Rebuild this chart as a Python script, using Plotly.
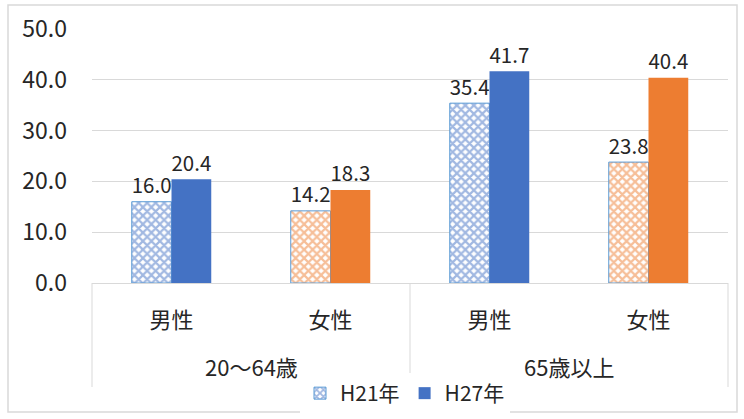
import plotly.graph_objects as go

groups = ["20～64歳", "20～64歳", "65歳以上", "65歳以上"]
sexes = ["男性", "女性", "男性", "女性"]
h21 = [16.0, 14.2, 35.4, 23.8]
h27 = [20.4, 18.3, 41.7, 40.4]
bar_colors = ["#4472C4", "#ED7D31", "#4472C4", "#ED7D31"]
y_ticks = [0, 10, 20, 30, 40, 50]
group_names = ["20～64歳", "65歳以上"]

FONT = "Noto Sans CJK JP"
TXT = "#262626"
x_keys = [f"{g} {s}" for g, s in zip(groups, sexes)]

W, H = 744, 419
L, R, T, B = 92, 16, 29, 136
pw, ph = W - L - R, H - T - B

def px(xp):
    return (xp - L) / pw

def py(yp):
    return (H - B - yp) / ph

fig = go.Figure()
fig.add_trace(go.Bar(
    name="H21年", x=x_keys, y=h21,
    marker=dict(color="white",
                line=dict(color="#5B9BD5", width=1),
                pattern=dict(shape="x", fgcolor=bar_colors, bgcolor="white",
                             size=6, solidity=0.6, fillmode="overlay")),
    text=[f"{v:.1f}" for v in h21], textposition="outside",
    textfont=dict(size=22, color=TXT, family=FONT), cliponaxis=False,
))
fig.add_trace(go.Bar(
    name="H27年", x=x_keys, y=h27,
    marker=dict(color=bar_colors, line=dict(width=0)),
    text=[f"{v:.1f}" for v in h27], textposition="outside",
    textfont=dict(size=22, color=TXT, family=FONT), cliponaxis=False,
))

divider_shapes = [
    dict(type="line", xref="paper", yref="paper", x0=xx, x1=xx,
         y0=0, y1=py(387), line=dict(color="#D9D9D9", width=1))
    for xx in (0, 0.5, 1)
]

group_annotations = [
    dict(text=name, xref="paper", yref="paper", x=(i + 0.5) / len(group_names),
         y=py(366), xanchor="center", yanchor="middle", showarrow=False,
         font=dict(size=22, color=TXT, family=FONT))
    for i, name in enumerate(group_names)
]

fig.update_layout(
    width=W, height=H,
    margin=dict(l=L, r=R, t=T, b=B, autoexpand=False),
    paper_bgcolor="white", plot_bgcolor="white",
    barmode="group", bargap=0.5, bargroupgap=0,
    font=dict(family=FONT, color=TXT, size=21),
    showlegend=True,
    legend=dict(orientation="h", x=px(405), xanchor="center",
                yref="container", y=1 - 373 / H, yanchor="top",
                font=dict(size=21, color=TXT, family=FONT),
                itemwidth=30, tracegroupgap=0),
    xaxis=dict(type="category", showline=True, linecolor="#D9D9D9",
               tickvals=x_keys, ticktext=sexes, automargin=False,
               tickfont=dict(size=22, color=TXT, family=FONT),
               ticks="", ticklabelstandoff=18),
    yaxis=dict(range=[0, 50], tickvals=y_ticks,
               ticktext=[f"{v:.1f}" for v in y_ticks],
               showgrid=True, gridcolor="#D9D9D9", gridwidth=1,
               zeroline=False, showline=False, automargin=False,
               tickfont=dict(size=23, color=TXT, family=FONT),
               ticks="", ticklabelstandoff=24),
    annotations=group_annotations,
    shapes=divider_shapes + [
        dict(type="rect", xref="paper", yref="paper",
             x0=px(8), x1=px(737), y0=py(412), y1=py(5),
             line=dict(color="#D9D9D9", width=1.5))],
)

fig.write_html("out.html", config={"displayModeBar": False},
               post_script="document.body.style.margin='0';")
